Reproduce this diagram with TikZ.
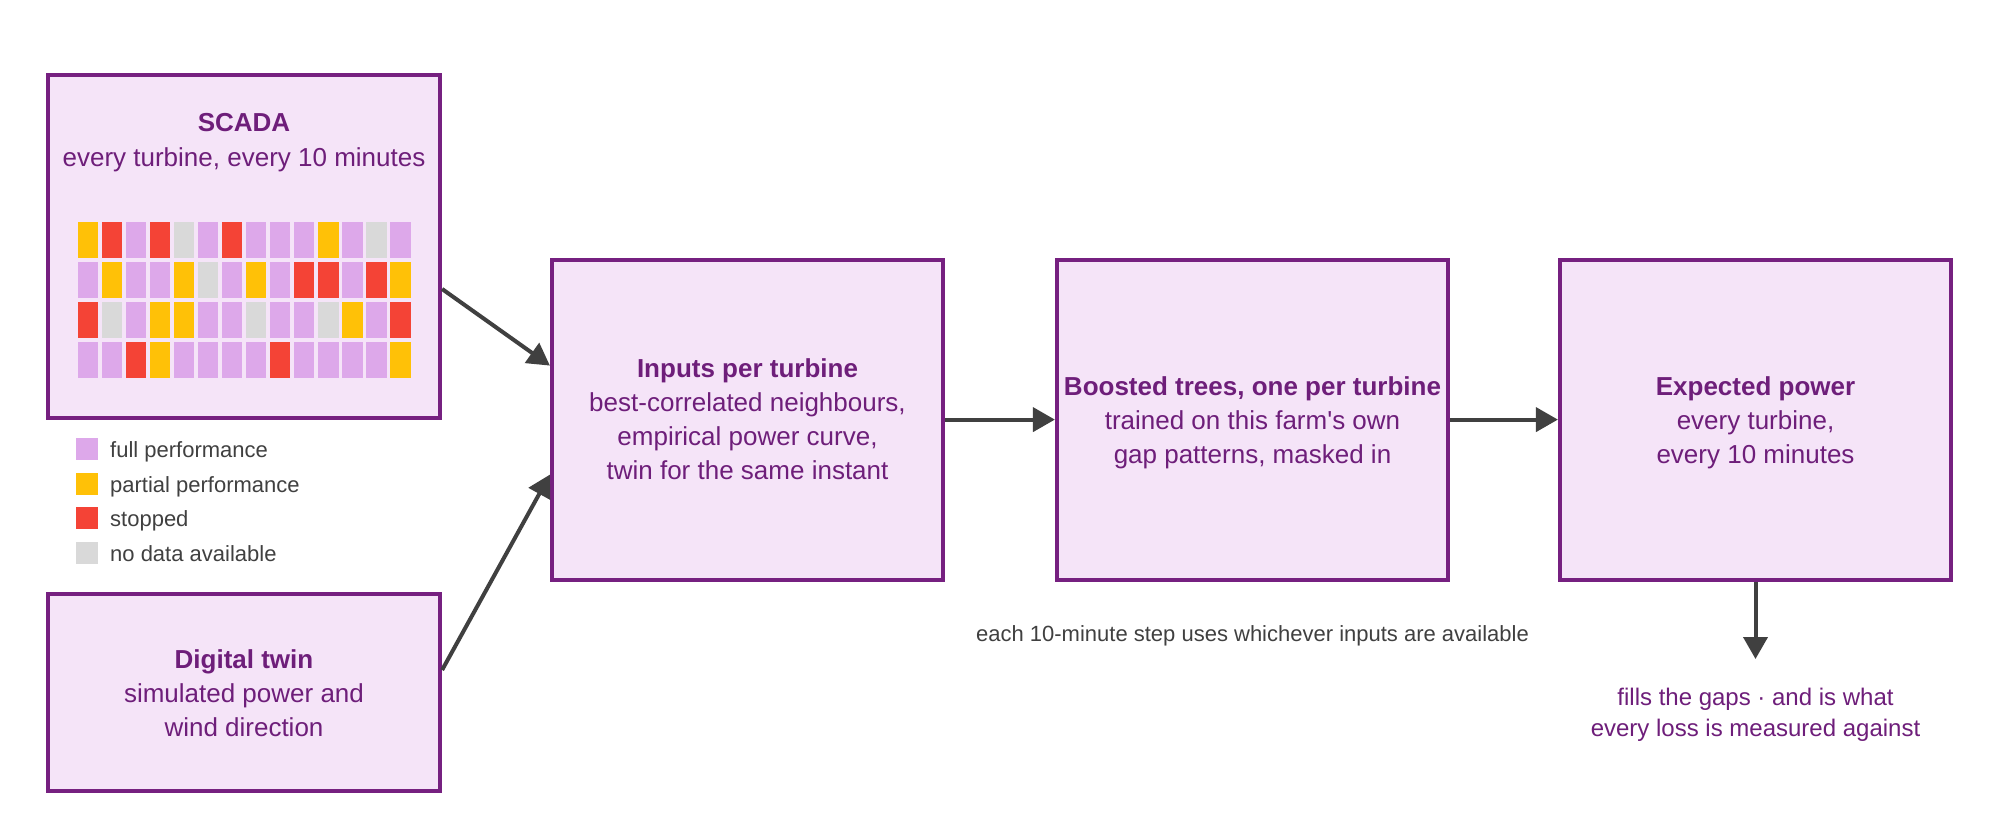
\documentclass[tikz,border=0pt]{standalone}
\usepackage{fontspec}
\setmainfont{Liberation Sans}[Ligatures=TeXOff]
\usetikzlibrary{arrows.meta}
\definecolor{boxline}{RGB}{118,32,128}
\definecolor{boxfill}{RGB}{245,228,248}
\definecolor{textpurple}{RGB}{110,30,122}
\definecolor{arrowgray}{RGB}{64,64,64}
\definecolor{labelgray}{RGB}{64,64,64}
\definecolor{cP}{RGB}{221,168,234}
\definecolor{cY}{RGB}{255,193,7}
\definecolor{cR}{RGB}{244,67,54}
\definecolor{cG}{RGB}{217,217,217}
\begin{document}
\begin{tikzpicture}[x=1pt,y=-1pt,
  box/.style={draw=boxline, fill=boxfill, line width=4.2pt, inner sep=0pt,
    minimum width=391pt},
  boxtext/.style={text=textpurple, align=center, inner sep=0pt,
    font=\fontsize{26}{34}\selectfont},
  flow/.style={draw=arrowgray, line width=4pt, -{Triangle[length=22pt,width=24pt]}},
  legendtext/.style={text=labelgray, inner sep=0pt, anchor=west,
    text height=16pt, text depth=0pt, font=\fontsize{22}{26}\selectfont},
  captext/.style={text=labelgray, inner sep=0pt, font=\fontsize{22}{26}\selectfont},
  notetext/.style={text=textpurple, align=center, inner sep=0pt,
    font=\fontsize{24}{31}\selectfont}
]
\fill[white] (0,0) rectangle (2000,840);
\useasboundingbox (0,0) rectangle (2000,840);

% boxes
\node[box, minimum width=392pt, minimum height=343pt] (scada) at (244,246.5) {};
\node[boxtext, font=\fontsize{26}{35}\selectfont] (scadatext) at (244,143) {\textbf{SCADA}\\every turbine, every 10 minutes};
\node[box, minimum width=392pt, minimum height=197pt] (twin) at (244,692.5) {};
\node[boxtext] (twintext) at ([yshift=-0.3pt]twin.center)
  {\textbf{Digital twin}\\simulated power and\\wind direction};
\node[box, minimum height=320pt] (inputs) at (747.5,419.6) {};
\node[boxtext] (inputstext) at (inputs.center)
  {\textbf{Inputs per turbine}\\best-correlated neighbours,\\empirical power curve,\\twin for the same instant};
\node[box, minimum height=320pt] (boosted) at (1252.5,419.6) {};
\node[boxtext] (boostedtext) at ([yshift=-3pt]boosted.center)
  {\textbf{Boosted trees, one per turbine}\\trained on this farm's own\\gap patterns, masked in};
\node[box, minimum height=320pt] (expected) at (1755.5,419.6) {};
\node[boxtext] (expectedtext) at ([yshift=-3pt]expected.center)
  {\textbf{Expected power}\\every turbine,\\every 10 minutes};

% status grid
\foreach \row [count=\r from 0] in {
  {Y,R,P,R,G,P,R,P,P,P,Y,P,G,P},
  {P,Y,P,P,Y,G,P,Y,P,R,R,P,R,Y},
  {R,G,P,Y,Y,P,P,G,P,P,G,Y,P,R},
  {P,P,R,Y,P,P,P,P,R,P,P,P,P,Y}} {
  \foreach \c [count=\k from 0] in \row {
    \fill[c\c] (77.7+\k*24.05, 222+\r*40) rectangle ++(20.3,36);
  }
}

% legend
\foreach \col/\lab/\yy [count=\i] in {cP/full performance/449,
    cY/partial performance/484, cR/stopped/518, cG/no data available/553} {
  \fill[\col] (76,\yy-11) rectangle (98,\yy+11);
  \node[legendtext] (leg\i) at (110,\yy) {\lab};
}

% captions
\node[captext] (caption) at (1252.5,636) {each 10-minute step uses whichever inputs are available};
\node[notetext] (note) at (1755.5,715) {fills the gaps · and is what\\every loss is measured against};
\coordinate (downtip) at (1755.5,659);

% connectors
\draw[flow] ([yshift=-42.5pt]scada.east) -- ([yshift=54pt]inputs.west);
\draw[flow] ([yshift=22.5pt]twin.east) -- ([yshift=-55pt]inputs.west);
\draw[flow] (inputs.east) -- (boosted.west);
\draw[flow] (boosted.east) -- (expected.west);
\draw[flow] (expected.south) -- (downtip);
\end{tikzpicture}
\end{document}
